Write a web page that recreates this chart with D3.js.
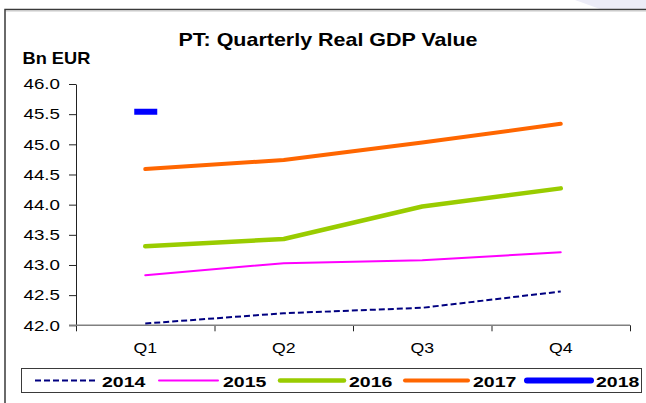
<!DOCTYPE html>
<html>
<head>
<meta charset="utf-8">
<script src="https://cdn.jsdelivr.net/npm/d3@7"></script>
<style>
  body { margin: 0; background: #fff; }
  svg { display: block; font-family: "Liberation Sans", Arial, sans-serif; }
  .axis-label { font-family: "Liberation Sans", Arial, sans-serif; font-size: 15px; fill: #000; }
</style>
</head>
<body>
<script>
// quarters and yearly series (Bn EUR)
const quarters = ["Q1", "Q2", "Q3", "Q4"];
const years = ["2014", "2015", "2016", "2017", "2018"];
const gdp2014 = [42.03, 42.20, 42.29, 42.56];
const gdp2015 = [42.83, 43.03, 43.08, 43.21];
const gdp2016 = [43.31, 43.43, 43.97, 44.27];
const gdp2017 = [44.59, 44.74, 45.03, 45.34];
const gdp2018 = [45.54];
const yTicks = [42.0, 42.5, 43.0, 43.5, 44.0, 44.5, 45.0, 45.5, 46.0];

const w = 646, h = 403;
const plotLeft = 76, plotRight = 630, plotTop = 84, plotBottom = 325.3;

const svg = d3.select("body").append("svg")
  .attr("width", w)
  .attr("height", h);

// background swoosh + frame
svg.append("path")
  .attr("d", "M575,0 L646,0 L646,9 L600,9 Z")
  .attr("fill", "#ececf7");
svg.append("path")
  .attr("d", `M5,${h} L5,9.5 L${w},9.5`)
  .attr("fill", "none")
  .attr("stroke", "#3a3a3a")
  .attr("stroke-width", 1.5);
svg.append("line")
  .attr("x1", 6).attr("x2", w).attr("y1", 11).attr("y2", 11)
  .attr("stroke", "#c8c8c8").attr("stroke-width", 1);

// text is widened a bit, the source chart was stretched horizontally
const addText = (x, y, str, size, weight, k, anchor, cls) => {
  svg.append("text")
    .attr("class", cls || null)
    .attr("transform", `translate(${x},${y}) scale(${k},1)`)
    .attr("text-anchor", anchor)
    .style("font-size", size + "px")
    .attr("font-weight", weight)
    .attr("fill", "#000")
    .text(str);
};

addText(328, 46, "PT: Quarterly Real GDP Value", 19, "bold", 1.13, "middle");
addText(22.5, 63.5, "Bn EUR", 16, "bold", 1.14, "start");

const xScale = d3.scalePoint()
  .domain(quarters)
  .range([plotLeft, plotRight])
  .padding(0.5);

const xTick = d3.scaleLinear()
  .domain([0, quarters.length])
  .range([plotLeft, plotRight]);

const yScale = d3.scaleLinear()
  .domain([42, 46])
  .range([plotBottom, plotTop]);

// y axis (labels drawn separately so they can be widened)
const yAxis = svg.append("g")
  .attr("transform", `translate(${plotLeft},0)`)
  .call(d3.axisLeft(yScale)
    .tickValues(yTicks)
    .tickFormat("")
    .tickSize(7)
    .tickSizeOuter(0));
yAxis.select(".domain").attr("stroke", "#222");
yAxis.selectAll(".tick line").attr("stroke", "#222");

yTicks.forEach(t => {
  addText(60, yScale(t) + 5.3, d3.format(".1f")(t), 15, "normal", 1.25, "end", "axis-label");
});

// x axis: ticks between categories, labels at centres
const xAxisTicks = svg.append("g")
  .attr("transform", `translate(0,${plotBottom})`)
  .call(d3.axisBottom(xTick)
    .tickValues(d3.range(quarters.length + 1))
    .tickFormat("")
    .tickSize(6)
    .tickSizeOuter(0));
xAxisTicks.selectAll(".tick line").attr("stroke", "#222");
xAxisTicks.select(".domain").remove();

quarters.forEach(q => {
  addText(xScale(q), 353, q, 15, "normal", 1.18, "middle", "axis-label");
});

svg.append("line")
  .attr("x1", plotLeft - 7).attr("x2", plotRight)
  .attr("y1", plotBottom).attr("y2", plotBottom)
  .attr("stroke", "#808080")
  .attr("stroke-width", 1.6);

// series
const series = [
  { name: years[0], values: gdp2014, color: "#000080", width: 2, dash: "6,3" },
  { name: years[1], values: gdp2015, color: "#ff00ff", width: 2, dash: null },
  { name: years[2], values: gdp2016, color: "#99cc00", width: 4.5, dash: null },
  { name: years[3], values: gdp2017, color: "#ff6600", width: 4, dash: null },
  { name: years[4], values: gdp2018, color: "#0000ff", width: 6, dash: null }
];

const line = d3.line()
  .x((d, i) => xScale(quarters[i]))
  .y(d => yScale(d));

series.filter(s => s.values.length > 1).forEach(s => {
  svg.append("path")
    .datum(s.values)
    .attr("d", line)
    .attr("fill", "none")
    .attr("stroke", s.color)
    .attr("stroke-width", s.width)
    .attr("stroke-linecap", s.dash ? "butt" : "round")
    .attr("stroke-linejoin", "round")
    .attr("stroke-dasharray", s.dash);
});

// single-point 2018 shown as a dash marker
svg.append("g")
  .selectAll("rect")
  .data(gdp2018)
  .enter()
  .append("rect")
  .attr("x", (d, i) => xScale(quarters[i]) - 11)
  .attr("y", d => yScale(d) - 3)
  .attr("width", 23)
  .attr("height", 6)
  .attr("fill", "#0000ff");

// legend
const legend = svg.append("g").attr("id", "legend");
legend.append("rect")
  .attr("x", 21.5).attr("y", 368.5)
  .attr("width", 620).attr("height", 24)
  .attr("fill", "#fff")
  .attr("stroke", "#3a3a3a")
  .attr("stroke-width", 1);

const legendX = [35, 159, 280, 405, 527];
const legendLen = [62, 59, 64, 63, 64];
const ly = 380.5;
series.forEach((s, i) => {
  legend.append("line")
    .attr("x1", legendX[i]).attr("x2", legendX[i] + legendLen[i])
    .attr("y1", ly).attr("y2", ly)
    .attr("stroke", s.color)
    .attr("stroke-width", s.width)
    .attr("stroke-linecap", s.dash ? "butt" : "round")
    .attr("stroke-dasharray", s.dash);
  legend.append("text")
    .attr("transform", `translate(${legendX[i] + legendLen[i] + 5},386.5) scale(1.3,1)`)
    .style("font-size", "15px")
    .attr("font-weight", "bold")
    .text(s.name);
});
</script>
</body>
</html>
